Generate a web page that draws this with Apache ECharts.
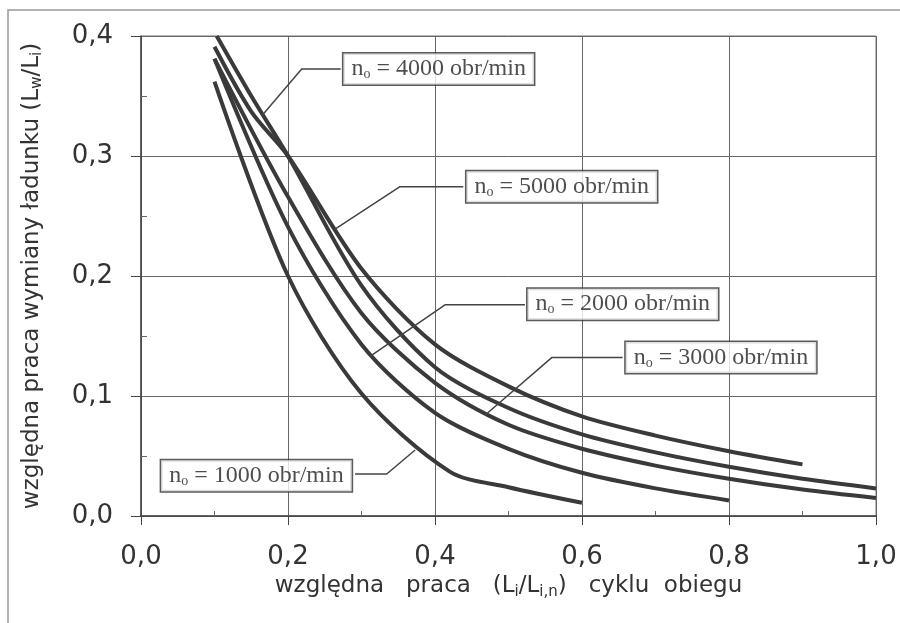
<!DOCTYPE html>
<html>
<head>
<meta charset="utf-8">
<script src="https://cdn.jsdelivr.net/npm/echarts@6/dist/echarts.min.js"></script>
<style>
  html, body { margin: 0; padding: 0; background: #fff; }
  #chart { width: 900px; height: 623px; }
</style>
</head>
<body>
<div id="chart"></div>
<script>
// krzywe: [L_i/L_i,n, L_w/L_i]
const n1000 = [[0.1, 0.362], [0.2, 0.200], [0.3, 0.102], [0.42, 0.037], [0.5, 0.024], [0.6, 0.011]];
const n2000 = [[0.1, 0.381], [0.2, 0.241], [0.3, 0.143], [0.4, 0.086], [0.5, 0.056], [0.6, 0.036], [0.7, 0.023], [0.8, 0.013]];
const n3000 = [[0.1, 0.381], [0.2, 0.266], [0.3, 0.169], [0.4, 0.111], [0.5, 0.076], [0.6, 0.056], [0.7, 0.042], [0.8, 0.031], [0.9, 0.022], [1.0, 0.015]];
const n4000 = [[0.103, 0.400], [0.15, 0.350], [0.2, 0.300], [0.3, 0.192], [0.4, 0.124], [0.5, 0.090], [0.6, 0.068], [0.7, 0.053], [0.8, 0.041], [0.9, 0.031], [1.0, 0.023]];
const n5000 = [[0.1, 0.391], [0.15, 0.337], [0.2, 0.300], [0.3, 0.206], [0.4, 0.143], [0.5, 0.108], [0.6, 0.083], [0.7, 0.067], [0.8, 0.054], [0.9, 0.043]];

const speeds = ['1000', '2000', '3000', '4000', '5000'];
const curves = [n1000, n2000, n3000, n4000, n5000];

// opisy: środek ramki i linia odnośnika (w jednostkach osi)
const boxCenters = [[0.157, 0.0335], [0.6555, 0.1765], [0.789, 0.132], [0.405, 0.3725], [0.5724, 0.2744]];
const leaders = [
    [[0.2912, 0.035], [0.3343, 0.035], [0.373, 0.055]],
    [[0.5224, 0.176], [0.4136, 0.176], [0.3116, 0.133]],
    [[0.6553, 0.132], [0.5588, 0.132], [0.468, 0.084]],
    [[0.2717, 0.3725], [0.2186, 0.3725], [0.165, 0.334]],
    [[0.4385, 0.2744], [0.3524, 0.2744], [0.264, 0.239]]
];

const fmt = v => v.toFixed(1).replace('.', ',');
const ink = '#333';

const series = [];

curves.forEach((c, i) => {
    series.push({
        name: 'n' + speeds[i],
        type: 'line',
        data: c,
        smooth: 0.3,
        symbol: 'none',
        lineStyle: { color: '#3a3a3a', width: 4 },
        z: 3
    });
});

leaders.forEach(l => {
    series.push({
        type: 'line',
        data: l,
        symbol: 'none',
        lineStyle: { color: '#444', width: 1.5 },
        z: 4
    });
});

const boxText = { fontFamily: 'Liberation Serif', color: '#222', textBorderWidth: 0, textShadowBlur: 0, lineHeight: 25 };

series.push({
    type: 'scatter',
    data: boxCenters.map((p, i) => ({ value: p, speed: speeds[i] })),
    symbolSize: 1,
    itemStyle: { color: 'rgba(0,0,0,0)' },
    z: 5,
    label: {
        show: true,
        position: 'inside',
        formatter: p => '{n|n}{s|o}{t| = ' + p.data.speed + ' obr/min}',
        color: '#222',
        textBorderWidth: 0,
        textBorderColor: 'transparent',
        backgroundColor: '#fff',
        borderColor: '#333',
        borderWidth: 1.5,
        padding: [3, 8, 3, 8],
        rich: {
            n: Object.assign({ fontSize: 24 }, boxText),
            s: Object.assign({ fontSize: 14, verticalAlign: 'bottom', padding: [6, 0, 0, 0] }, boxText),
            t: Object.assign({ fontSize: 24 }, boxText)
        }
    }
});

const chart = echarts.init(document.getElementById('chart'), null, { renderer: 'canvas' });

chart.setOption({
    animation: false,
    backgroundColor: '#fff',
    grid: {
        left: 141, top: 36, right: 24, bottom: 107,
        show: true, borderColor: '#777', borderWidth: 1
    },
    xAxis: {
        type: 'value',
        min: 0, max: 1, interval: 0.2,
        axisLine: { lineStyle: { color: '#444', width: 1.5 } },
        axisTick: { length: 9, lineStyle: { color: '#444' } },
        minorTick: { show: true, splitNumber: 2, length: -5, lineStyle: { color: '#666' } },
        splitLine: { lineStyle: { color: '#666', width: 1 } },
        axisLabel: {
            formatter: fmt, margin: 28,
            fontFamily: 'DejaVu Sans', fontSize: 26, color: ink
        },
        name: '{t|względna   praca   (L}{s|i}{t|/L}{s|i,n}{t|)   cyklu  obiegu}',
        nameLocation: 'middle',
        nameGap: 52,
        nameTextStyle: {
            rich: {
                t: { fontFamily: 'DejaVu Sans', fontSize: 23, color: ink, lineHeight: 26 },
                s: { fontFamily: 'DejaVu Sans', fontSize: 15, color: ink, verticalAlign: 'bottom', lineHeight: 26, padding: [8, 0, 0, 0] }
            }
        }
    },
    yAxis: {
        type: 'value',
        min: 0, max: 0.4, interval: 0.1,
        axisLine: { show: true, lineStyle: { color: '#444', width: 1.5 } },
        axisTick: { show: true, length: 10, lineStyle: { color: '#444' } },
        minorTick: { show: true, splitNumber: 2, length: -6, lineStyle: { color: '#666' } },
        splitLine: { lineStyle: { color: '#666', width: 1 } },
        axisLabel: {
            formatter: fmt, margin: 28,
            fontFamily: 'DejaVu Sans', fontSize: 26, color: ink
        },
        name: '{t|względna praca wymiany ładunku (L}{s|w}{t|/L}{s|i}{t|)}',
        nameLocation: 'middle',
        nameGap: 96,
        nameTextStyle: {
            rich: {
                t: { fontFamily: 'DejaVu Sans', fontSize: 23, color: ink, lineHeight: 26 },
                s: { fontFamily: 'DejaVu Sans', fontSize: 15, color: ink, verticalAlign: 'bottom', lineHeight: 26, padding: [8, 0, 0, 0] }
            }
        }
    },
    graphic: [
        {
            type: 'polyline',
            shape: { points: [[8, 623], [8, 10], [900, 10]] },
            style: { stroke: '#999', lineWidth: 1.5, fill: null },
            silent: true
        }
    ],
    series: series
});
</script>
</body>
</html>
